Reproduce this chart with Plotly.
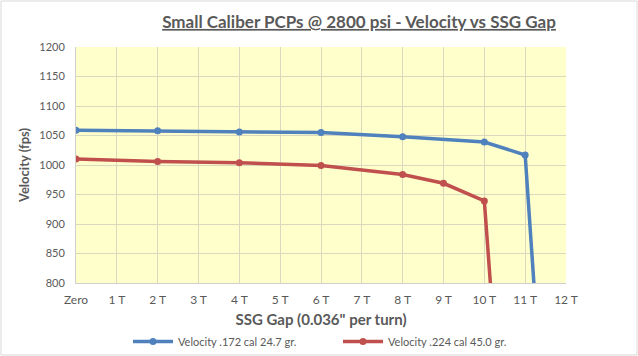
import plotly.graph_objects as go

tick_labels = ["Zero", "1 T", "2 T", "3 T", "4 T", "5 T", "6 T", "7 T", "8 T", "9 T", "10 T", "11 T", "12 T"]

blue_name = "Velocity .172 cal 24.7 gr."
blue_x = [0, 2, 4, 6, 8, 10, 11, 12]
blue_y = [1059, 1058, 1056, 1055, 1048, 1039, 1017, 0]

red_name = "Velocity .224 cal 45.0 gr."
red_x = [0, 2, 4, 6, 8, 9, 10, 11]
red_y = [1010, 1006, 1004, 999, 984, 969, 939, 0]

FONT = "Lato, 'Open Sans', sans-serif"
GRAY = "#595959"

fig = go.Figure()
fig.add_trace(go.Scatter(x=blue_x, y=blue_y, name=blue_name, mode="lines+markers",
                         line=dict(color="#4F81BD", width=3.5),
                         marker=dict(color="#4F81BD", size=7), cliponaxis=True))
fig.add_trace(go.Scatter(x=red_x, y=red_y, name=red_name, mode="lines+markers",
                         line=dict(color="#C0504D", width=3.5),
                         marker=dict(color="#C0504D", size=7), cliponaxis=True))

L, R, T, B = 76, 72, 47, 73
W, H = 638, 356
pw, ph = W - L - R, H - T - B

fig.update_layout(
    width=W, height=H,
    margin=dict(l=L, r=R, t=T, b=B, autoexpand=False),
    paper_bgcolor="white",
    plot_bgcolor="#FFFFCC",
    font=dict(family=FONT, color=GRAY, size=11),
    title=dict(text="<b><u>Small Caliber PCPs @ 2800 psi - Velocity vs SSG Gap</u></b>",
               x=359 / W, xanchor="center", y=1 - 22 / H, yanchor="middle",
               font=dict(size=17, color=GRAY, family=FONT)),
    xaxis=dict(range=[0, 12], tickmode="array", tickvals=list(range(13)), ticktext=tick_labels,
               showgrid=True, gridcolor="#D9D9C0", gridwidth=1, zeroline=False,
               showline=True, linecolor="#D0D0D0", ticks="outside", ticklen=6, tickcolor="rgba(0,0,0,0)",
               tickfont=dict(size=12, color=GRAY),
               title=dict(text="<b>SSG Gap (0.036\" per turn)</b>", font=dict(size=15, color=GRAY), standoff=8)),
    yaxis=dict(range=[800, 1200], tickmode="array", tickvals=list(range(800, 1201, 50)),
               showgrid=True, gridcolor="#D9D9C0", gridwidth=1, zeroline=False,
               showline=True, linecolor="#D0D0D0", ticks="outside", ticklen=8, tickcolor="rgba(0,0,0,0)",
               tickfont=dict(size=11, color=GRAY),
               title=dict(text="<b>Velocity (fps)</b>", font=dict(size=13, color=GRAY), standoff=6)),
    legend=dict(orientation="h", x=(338 - L) / pw, xanchor="center",
                y=-(327 - (T + ph)) / ph, yanchor="top",
                font=dict(size=11, color=GRAY), itemwidth=40, entrywidth=155, bgcolor="rgba(0,0,0,0)"),
    showlegend=True,
)

fig.add_shape(type="rect", xref="paper", yref="paper",
              x0=-(L - 1) / pw, x1=1 + (R - 1) / pw, y0=-(B - 1) / ph, y1=1 + (T - 1) / ph,
              line=dict(color="#D9D9D9", width=1), layer="below")

fig.write_html("out.html", config={"displayModeBar": False},
               post_script="document.body.style.margin='0';document.body.style.padding='0';")
